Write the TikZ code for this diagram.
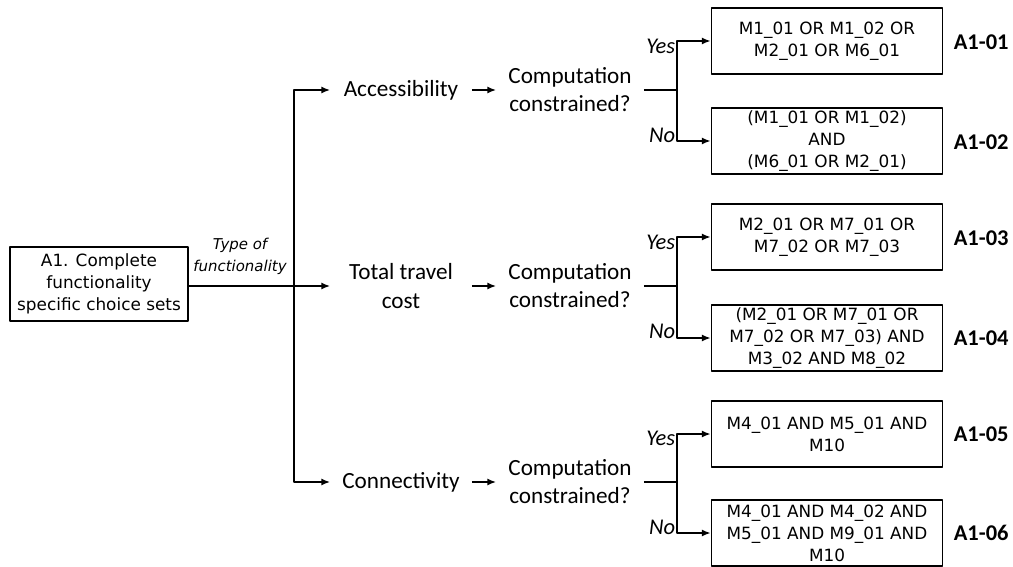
\documentclass[tikz,border=0pt]{standalone}
\usepackage{fontspec}
\setmainfont{DejaVu Sans}
\newfontfamily\calfont{Carlito}
\usetikzlibrary{arrows.meta}

\begin{document}
\begin{tikzpicture}[x=0.02cm,y=-0.02cm,line join=round,
  every path/.style={line width=0.95pt},
  arr/.style={-{Latex[length=5pt,width=4pt]}},
  box/.style={draw,minimum width=4.62cm,minimum height=1.32cm,align=center,inner sep=1pt,font=\fontsize{9.6}{12.5}\selectfont},
  lbox/.style={draw,minimum width=3.56cm,minimum height=1.48cm,align=center,inner sep=1pt,font=\fontsize{9.6}{12.5}\selectfont},
  mid/.style={align=center,inner sep=0pt,font=\calfont\fontsize{13.2}{16}\selectfont},
  yn/.style={anchor=east,inner sep=0pt,font=\calfont\itshape\fontsize{12.8}{14}\selectfont},
  lab/.style={anchor=west,inner sep=0pt,font=\calfont\bfseries\fontsize{12.8}{15}\selectfont}]
  \useasboundingbox (0,0) rectangle (1013,567);
  % left part
  \node[lbox] (a1) at (99,284) {A1. Complete\\functionality\\specific choice sets};
  \node[align=center,inner sep=0pt,font=\itshape\fontsize{8.5}{12.5}\selectfont] (tf) at (240,256) {Type of\\functionality};
  \coordinate (t) at (294,286);
  \node[mid,minimum width=2.8cm] (acc) at (401,90) {Accessibility};
  \node[mid,minimum width=2.8cm] (ttc) at (401,286) {Total travel\\cost};
  \node[mid,minimum width=2.8cm] (con) at (401,482) {Connectivity};
  \draw[arr] (a1.east |- ttc) -- (ttc);
  \draw[arr] (t) |- (acc);
  \draw[arr] (t) |- (con);
  \node[mid,minimum width=2.92cm] (cc1) at (570,90) {Computation\\constrained?};
  \node[mid,minimum width=2.92cm] (cc2) at (570,286) {Computation\\constrained?};
  \node[mid,minimum width=2.92cm] (cc3) at (570,482) {Computation\\constrained?};
  \draw[arr] (acc) -- (cc1);
  \draw[arr] (ttc) -- (cc2);
  \draw[arr] (con) -- (cc3);
  % boxes
  \node[box] (b1) at (827,41) {M1\_01 OR M1\_02 OR\\M2\_01 OR M6\_01};
  \node[box] (b2) at (827,141) {(M1\_01 OR M1\_02)\\AND\\(M6\_01 OR M2\_01)};
  \node[box] (b3) at (827,237) {M2\_01 OR M7\_01 OR\\M7\_02 OR M7\_03};
  \node[box] (b4) at (827,338) {(M2\_01 OR M7\_01 OR\\M7\_02 OR M7\_03) AND\\M3\_02 AND M8\_02};
  \node[box] (b5) at (827,434) {M4\_01 AND M5\_01 AND\\M10};
  \node[box] (b6) at (827,533) {M4\_01 AND M4\_02 AND\\M5\_01 AND M9\_01 AND\\M10};
  % branches
  \coordinate (j1) at (677,90);
  \coordinate (j2) at (677,286);
  \coordinate (j3) at (677,482);
  \draw (cc1) -- (j1);
  \draw (cc2) -- (j2);
  \draw (cc3) -- (j3);
  \draw[arr] (j1) |- (b1);
  \draw[arr] (j1) |- (b2);
  \draw[arr] (j2) |- (b3);
  \draw[arr] (j2) |- (b4);
  \draw[arr] (j3) |- (b5);
  \draw[arr] (j3) |- (b6);
  \node[yn] (y1) at (676,46) {Yes};
  \node[yn] (n1) at (676,135) {No};
  \node[yn] (y2) at (676,242) {Yes};
  \node[yn] (n2) at (676,331) {No};
  \node[yn] (y3) at (676,438) {Yes};
  \node[yn] (n3) at (676,527) {No};
  % labels
  \node[lab] (l1) at (953,42) {A1-01};
  \node[lab] (l2) at (953,142) {A1-02};
  \node[lab] (l3) at (953,238) {A1-03};
  \node[lab] (l4) at (953,338) {A1-04};
  \node[lab] (l5) at (953,434) {A1-05};
  \node[lab] (l6) at (953,533) {A1-06};
\end{tikzpicture}
\end{document}
